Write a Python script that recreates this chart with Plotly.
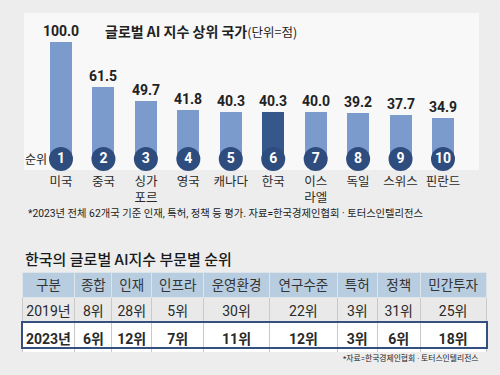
import plotly.graph_objects as go

# ---- data ----
countries = ["미국", "중국", "싱가<br>포르", "영국", "캐나다", "한국", "이스<br>라엘", "독일", "스위스", "핀란드"]
scores = [100.0, 61.5, 49.7, 41.8, 40.3, 40.3, 40.0, 39.2, 37.7, 34.9]
ranks = [1, 2, 3, 4, 5, 6, 7, 8, 9, 10]
highlight = "한국"

table_header = ["구분", "종합", "인재", "인프라", "운영환경", "연구수준", "특허", "정책", "민간투자"]
row_2019 = ["2019년", "8위", "28위", "5위", "30위", "22위", "3위", "31위", "25위"]
row_2023 = ["2023년", "6위", "12위", "7위", "11위", "12위", "3위", "6위", "18위"]
col_widths = [53, 37, 40, 52, 66, 68, 40, 43, 66]

# ---- styles ----
W, H = 500, 375
NUM = "Roboto, Noto Sans CJK KR, sans-serif"
KR = "Noto Sans CJK KR, sans-serif"
LIGHT = "#7b9bcd"
DARK = "#36578c"
CIRCLE = "#2f4c7e"

def px_x(p):
    return p / W

def px_y(p):
    return (H - p) / H

xpos = list(range(len(countries)))
bar_colors = [DARK if c == highlight else LIGHT for c in countries]

fig = go.Figure()

fig.add_trace(go.Bar(
    x=xpos, y=scores, width=0.52,
    marker=dict(color=bar_colors, line=dict(width=0)),
    text=[f"{v:.1f}" for v in scores], textposition="outside",
    constraintext="none",
    textfont=dict(family=NUM, size=14, color="#222222", weight="bold"),
    cliponaxis=False, hoverinfo="skip",
))

fig.add_trace(go.Scatter(
    x=xpos, y=[0] * len(xpos), mode="markers+text",
    marker=dict(size=24, color=CIRCLE, line=dict(width=0)),
    text=[str(r) for r in ranks], textposition="middle center",
    textfont=dict(family=NUM, size=14, color="white", weight="bold"),
    cliponaxis=False, hoverinfo="skip",
))

fig.add_trace(go.Scatter(
    x=xpos, y=[-15] * len(xpos), mode="text",
    text=countries, textposition="bottom center",
    textfont=dict(family=KR, size=12.5, color="#2a2a2a"),
    cliponaxis=False, hoverinfo="skip",
))

cells_vals = [[row_2019[i], "<b>" + row_2023[i] + "</b>"] for i in range(len(table_header))]
fig.add_trace(go.Table(
    domain=dict(x=[px_x(22), px_x(487)], y=[px_y(352), px_y(272)]),
    columnwidth=col_widths,
    header=dict(
        values=table_header, height=25, align="center",
        fill=dict(color="#b9cde1"),
        line=dict(color="#dde4ea", width=1),
        font=dict(family=NUM, size=13.5, color="#333333"),
    ),
    cells=dict(
        values=cells_vals, height=25.5, align="center",
        fill=dict(color=[["#e9e9e9", "#ffffff"]] * len(table_header)),
        line=dict(color="#c9c9c9", width=1),
        font=dict(family=NUM, size=14, color="#2a2a2a"),
    ),
))

# panel background
fig.add_shape(type="rect", xref="paper", yref="paper",
              x0=px_x(24), x1=px_x(479), y0=px_y(170), y1=px_y(13),
              fillcolor="#f8f8f8", line=dict(width=0), layer="below")
# highlight 2023 row
fig.add_shape(type="rect", xref="paper", yref="paper",
              x0=px_x(22), x1=px_x(487), y0=px_y(348), y1=px_y(322),
              fillcolor="rgba(0,0,0,0)", line=dict(color="#34507f", width=2))

annos = [
    dict(x=px_x(103), y=px_y(31), xanchor="left", yanchor="middle",
         text="<b>글로벌 AI 지수 상위 국가</b><span style='font-size:12.5px'>(단위=점)</span>",
         font=dict(family=KR, size=14, color="#222222")),
    dict(x=px_x(23), y=px_y(158), xanchor="left", yanchor="middle",
         text="순위", font=dict(family=KR, size=12, color="#222222")),
    dict(x=px_x(26), y=px_y(213), xanchor="left", yanchor="middle",
         text="*2023년 전체 62개국 기준 인재, 특허, 정책 등 평가. 자료=한국경제인협회 · 토터스인텔리전스",
         font=dict(family=NUM, size=10.3, color="#222222")),
    dict(x=px_x(23), y=px_y(258), xanchor="left", yanchor="middle",
         text="한국의 글로벌 AI지수 부문별 순위",
         font=dict(family=KR, size=15, color="#1a1a1a", weight=500)),
    dict(x=px_x(480), y=px_y(358), xanchor="right", yanchor="middle",
         text="*자료=한국경제인협회 · 토터스인텔리전스",
         font=dict(family=NUM, size=7.8, color="#222222")),
]
for a in annos:
    fig.add_annotation(xref="paper", yref="paper", showarrow=False, **a)

# axes scaled so that bars land where the reference shows them
px_per_x = 42.44
x_first = 61
y_base = 159
px_per_y = 1.17
fig.update_xaxes(visible=False, range=[-x_first / px_per_x, (len(xpos) - 1) + (W - 443) / px_per_x],
                 domain=[0, 1], fixedrange=True)
fig.update_yaxes(visible=False, range=[-(H - y_base) / px_per_y, y_base / px_per_y],
                 domain=[0, 1], fixedrange=True)

fig.update_layout(
    width=W, height=H, autosize=False,
    margin=dict(l=0, r=0, t=0, b=0),
    paper_bgcolor="#ededed", plot_bgcolor="rgba(0,0,0,0)",
    showlegend=False, bargap=0,
)

fig.write_html("out.html", config={"displayModeBar": False},
               post_script="document.body.style.margin='0';document.body.style.background='#ededed';")
